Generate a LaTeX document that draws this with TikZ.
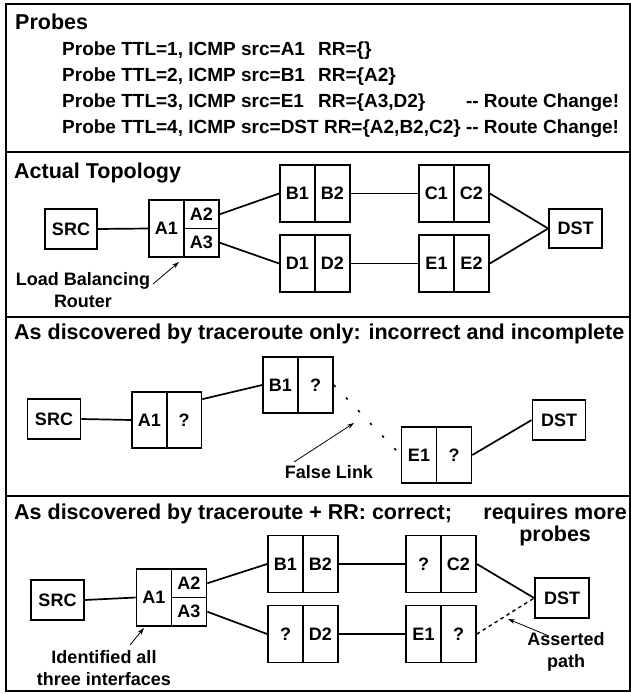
\documentclass[tikz,border=0pt]{standalone}
\usepackage{fontspec}
\setmainfont{Liberation Sans}
\usetikzlibrary{arrows.meta,calc}
\newcommand\ttlfont{\fontsize{21.5}{25}\selectfont\bfseries}
\newcommand\prbfont{\fontsize{19}{22}\selectfont\bfseries}
\newcommand\lblfont{\fontsize{18}{22.5}\selectfont\bfseries}
\begin{document}
\begin{tikzpicture}[x=1pt,y=-1pt,
  box/.style={draw, line width=1.7pt, inner sep=0pt, font=\lblfont, minimum width=35pt, minimum height=57pt},
  qbox/.style={box, minimum height=28.5pt},
  term/.style={draw, line width=1.7pt, inner sep=0pt, font=\lblfont, minimum width=53pt, minimum height=40pt},
  link/.style={line width=1.7pt},
  ptr/.style={line width=0.8pt, -{Stealth[length=7pt,width=4.5pt]}},
  ttl/.style={font=\ttlfont, anchor=base west, inner sep=0pt},
  prb/.style={font=\prbfont, anchor=base west, inner sep=0pt},
  note/.style={font=\lblfont, align=center, inner sep=0pt}]
\useasboundingbox (0,0) rectangle (631,694);
% frame and separators
\draw[line width=2pt] (6,4) rectangle (630,691);
\draw[line width=2pt] (6,152) -- (630,152);
\draw[line width=2pt] (6,317) -- (630,317);
\draw[line width=2pt] (6,496) -- (630,496);

% ---------- Panel 1: probes
\node[ttl] (t1) at (15,29) {Probes};
\node[prb] (p1) at (62,55) {Probe TTL=1, ICMP src=A1};
\node[prb] (r1) at (318,55) {RR=\{\}};
\node[prb] (p2) at (62,81) {Probe TTL=2, ICMP src=B1};
\node[prb] (r2) at (318,81) {RR=\{A2\}};
\node[prb] (p3) at (62,107) {Probe TTL=3, ICMP src=E1};
\node[prb] (r3) at (318,107) {RR=\{A3,D2\}};
\node[prb] (p4) at (62,133) {Probe TTL=4, ICMP src=DST RR=\{A2,B2,C2\} -{}- Route Change!};
\node[prb, anchor=base east] (c3) at (p4.base east |- r3.base) {-{}- Route Change!};

% ---------- Panel 2: actual topology
\node[ttl] (t2) at (14,178) {Actual Topology};
\node[term, minimum width=52pt] (src2) at (71,229) {SRC};
\node[box] (a1b) at (166.5,228.5) {A1};
\node[qbox] (a2b) at (201.5,214.25) {A2};
\node[qbox] (a3b) at (201.5,242.75) {A3};
\node[box] (b1b) at (297.5,193.5) {B1};
\node[box] (b2b) at (332.5,193.5) {B2};
\node[box] (c1b) at (436.5,193.5) {C1};
\node[box] (c2b) at (471.5,193.5) {C2};
\node[box] (d1b) at (297.5,263.5) {D1};
\node[box] (d2b) at (332.5,263.5) {D2};
\node[box] (e1b) at (436.5,263.5) {E1};
\node[box] (e2b) at (471.5,263.5) {E2};
\node[term, minimum height=39pt] (dst2) at (575.5,228.5) {DST};
\draw[link] (src2.east) -- (a1b.west);
\draw[link] (a2b.east) -- (b1b.west);
\draw[link] (a3b.east) -- (d1b.west);
\draw[link] (b2b.east) -- (c1b.west);
\draw[link] (d2b.east) -- (e1b.west);
\draw[link] (c2b.east) -- (dst2.west);
\draw[link] (e2b.east) -- (dst2.west);
\node[note] (lb) at (83,290) {Load Balancing\\Router};
\coordinate (lbs) at (153,284);
\coordinate (lbt) at (179,262);
\draw[ptr] (lbs) -- (lbt);

% ---------- Panel 3: traceroute only
\node[ttl] (t3) at (14,339) {As discovered by traceroute only: incorrect and incomplete};
\node[term] (src3) at (54,419) {SRC};
\node[box, minimum height=56pt] (a1c) at (149.5,420) {A1};
\node[box, minimum height=56pt] (aqc) at (184,420) {?};
\node[box, minimum height=56pt] (b1c) at (280.5,385) {B1};
\node[box, minimum height=56pt] (bqc) at (315.5,385) {?};
\node[box, minimum height=56pt] (e1c) at (419,455) {E1};
\node[box, minimum height=56pt] (eqc) at (454,455) {?};
\node[term] (dst3) at (559,420) {DST};
\draw[link] (src3.east) -- (a1c.west);
\draw[link] ($(aqc.north east)+(0,8)$) -- (b1c.west);
\draw[line width=1.6pt, dash pattern=on 2.5pt off 15pt] (bqc.east) -- (e1c.west);
\draw[link] (eqc.east) -- (dst3.west);
\node[note] (fl) at (329,472) {False Link};
\coordinate (fls) at (294,462);
\coordinate (flt) at (354,423);
\draw[ptr] (fls) -- (flt);

% ---------- Panel 4: traceroute + RR
\node[ttl] (t4) at (14,519) {As discovered by traceroute + RR: correct;};
\node[font=\ttlfont, anchor=base east, inner sep=0pt] (rq1) at (627,519) {requires more};
\node[font=\ttlfont, anchor=base, inner sep=0pt] (rq2) at (rq1.base |- 0,541) {probes};
\node[term] (src4) at (57.5,600) {SRC};
\node[box] (a1d) at (154,597.5) {A1};
\node[qbox] (a2d) at (189,583.25) {A2};
\node[qbox] (a3d) at (189,611.75) {A3};
\node[box] (b1d) at (285.5,564) {B1};
\node[box] (b2d) at (320.5,564) {B2};
\node[box] (cqd) at (423.5,564) {?};
\node[box] (c2d) at (458.5,564) {C2};
\node[box] (dqd) at (285.5,634) {?};
\node[box] (d2d) at (320.5,634) {D2};
\node[box] (e1d) at (423.5,634) {E1};
\node[box] (eqd) at (458.5,634) {?};
\node[term, minimum width=54pt] (dst4) at (562,598) {DST};
\draw[link] (src4.east) -- (a1d.west);
\draw[link] (a2d.east) -- (b1d.west);
\draw[link] (a3d.east) -- (dqd.west);
\draw[link] (b2d.east) -- (cqd.west);
\draw[link] (d2d.east) -- (e1d.west);
\draw[link] (c2d.east) -- (dst4.west);
\draw[line width=1.4pt, dash pattern=on 3.5pt off 3.5pt] (eqd.east) -- (dst4.west);
\node[note] (ida) at (104,668) {Identified all\\three interfaces};
\coordinate (ids) at (130,645);
\coordinate (idt) at (144,628);
\draw[ptr] (ids) -- (idt);
\node[note] (asp) at (566,652) {Asserted\\path};
\coordinate (ass) at (549,636);
\coordinate (ast) at (508,619);
\draw[ptr] (ass) -- (ast);
\end{tikzpicture}
\end{document}
